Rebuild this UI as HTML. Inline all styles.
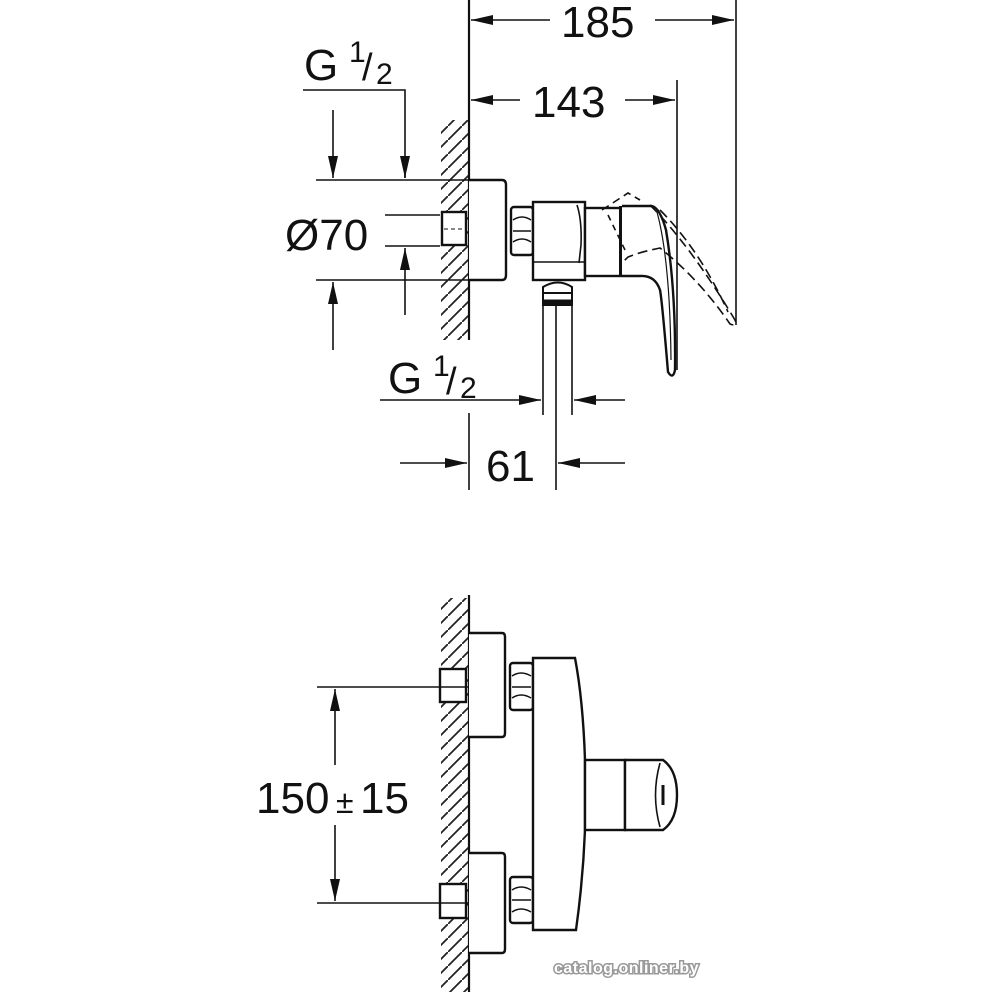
<!DOCTYPE html>
<html><head><meta charset="utf-8"><style>
html,body{margin:0;padding:0;background:#fff;width:1000px;height:1000px;overflow:hidden}
svg{display:block}
text{font-family:"Liberation Sans",sans-serif;fill:#111}
</style></head><body>
<svg width="1000" height="1000" viewBox="0 0 1000 1000" xmlns="http://www.w3.org/2000/svg">
<defs>
<pattern id="h" width="14" height="14" patternUnits="userSpaceOnUse">
<line x1="0" y1="14" x2="14" y2="0" stroke="#222" stroke-width="1.8"/>
</pattern>
<marker id="a" markerWidth="22" markerHeight="10" refX="22" refY="5" orient="auto" markerUnits="userSpaceOnUse">
<path d="M0,0 L22,5 L0,10 Z" fill="#111"/>
</marker>
</defs>
<g stroke="#111" fill="none" stroke-width="1.6">
<!-- TOP VIEW -->
<line x1="469" y1="0" x2="469" y2="340" stroke-width="2.2"/>
<rect x="441" y="120" width="27" height="220" fill="url(#h)" stroke="none"/>
<line x1="469" y1="413" x2="469" y2="490"/>
<line x1="736" y1="0" x2="736" y2="325"/>
<line x1="677" y1="80" x2="677" y2="370"/>
<line x1="550" y1="20" x2="471" y2="20" marker-end="url(#a)"/>
<line x1="655" y1="20" x2="734" y2="20" marker-end="url(#a)"/>
<line x1="520" y1="100" x2="471" y2="100" marker-end="url(#a)"/>
<line x1="625" y1="100" x2="675" y2="100" marker-end="url(#a)"/>
<polyline points="303,90 405,90 405,178" />
<line x1="405" y1="160" x2="405" y2="178" marker-end="url(#a)"/>
<line x1="405" y1="315" x2="405" y2="248" marker-end="url(#a)"/>
<line x1="316" y1="180" x2="470" y2="180"/>
<line x1="316" y1="280" x2="470" y2="280"/>
<line x1="385" y1="215" x2="440" y2="215"/>
<line x1="385" y1="246" x2="440" y2="246"/>
<line x1="333" y1="110" x2="333" y2="178" marker-end="url(#a)"/>
<line x1="333" y1="350" x2="333" y2="282" marker-end="url(#a)"/>
<rect x="442" y="212" width="24" height="33" fill="#fff" stroke-width="2.4"/>
<line x1="444" y1="229" x2="466" y2="229" stroke-dasharray="4,3" stroke-width="1"/>
<path d="M469,180 H502 Q506,180 506,185 V275 Q506,280 502,280 H469" fill="#fff" stroke-width="2.4"/>
<rect x="511" y="207" width="22" height="48" rx="3" fill="#fff" stroke-width="2.4"/>
<path d="M513,220 Q522,214 531,220 M513,242 Q522,236 531,242 M513,231 H531" stroke-width="1.4"/>
<rect x="533" y="202" width="52" height="78" fill="#fff" stroke-width="2.4"/>
<path d="M577,205 Q582,220 581,245 L579,263" stroke-width="1.6"/>
<line x1="533" y1="262" x2="585" y2="262" stroke-width="1.6"/>
<path d="M543,300 V287 Q558,278 572,287 V300" stroke-width="2"/>
<rect x="543" y="293" width="29" height="12" stroke-width="2"/>
<line x1="543" y1="302" x2="572" y2="302" stroke-width="5"/>
<rect x="585" y="208" width="36" height="68" fill="#fff" stroke-width="2.4"/>
<line x1="621" y1="206" x2="621" y2="276" stroke-width="4"/>
<path d="M622,206 H652 Q660,208 666,230 Q676,290 675,370 Q673,380 668,372 Q662,300 660,290 Q655,275 640,276 H622" fill="#fff" stroke-width="2.4"/>
<path d="M657,212 Q670,260 671,360" stroke-width="1.2"/>
<path d="M602,210 L628,193 L640,200" stroke-dasharray="8,5"/>
<path d="M650,205 Q690,245 735,320 Q738,327 730,324 Q700,280 660,248 Q640,252 628,257 L620,265" stroke-dasharray="10,5"/>
<path d="M660,210 Q700,250 728,312" stroke-dasharray="10,5"/>
<path d="M608,215 L625,250" stroke-dasharray="6,5"/>
<line x1="543" y1="305" x2="543" y2="415"/>
<line x1="572" y1="305" x2="572" y2="415"/>
<line x1="556" y1="305" x2="556" y2="490"/>
<line x1="380" y1="400" x2="541" y2="400" marker-end="url(#a)"/>
<line x1="625" y1="400" x2="574" y2="400" marker-end="url(#a)"/>
<line x1="400" y1="463" x2="467" y2="463" marker-end="url(#a)"/>
<line x1="625" y1="463" x2="558" y2="463" marker-end="url(#a)"/>

<!-- BOTTOM VIEW -->
<line x1="469" y1="595" x2="469" y2="992" stroke-width="2.2"/>
<rect x="441" y="598" width="27" height="394" fill="url(#h)" stroke="none"/>
<path d="M469,633 H502 Q505,633 505,637 V733 Q505,737 502,737 H469" fill="#fff" stroke-width="2.4"/>
<path d="M469,853 H502 Q505,853 505,857 V949 Q505,953 502,953 H469" fill="#fff" stroke-width="2.4"/>
<rect x="440" y="669" width="26" height="33" fill="#fff" stroke-width="2.4"/>
<rect x="440" y="884" width="26" height="34" fill="#fff" stroke-width="2.4"/>
<line x1="317" y1="687" x2="468" y2="687"/>
<line x1="317" y1="903" x2="468" y2="903"/>
<rect x="510" y="663" width="23" height="47" rx="3" fill="#fff" stroke-width="2.4"/>
<path d="M512,676 Q521,670 531,676 M512,698 Q521,692 531,698 M512,687 H531" stroke-width="1.4"/>
<rect x="510" y="877" width="23" height="46" rx="3" fill="#fff" stroke-width="2.4"/>
<path d="M512,890 Q521,884 531,890 M512,912 Q521,906 531,912 M512,900 H531" stroke-width="1.4"/>
<path d="M533,658 H575 Q583,700 585,760 V830 Q583,880 576,930 H533 Z" fill="#fff" stroke-width="2.4"/>
<rect x="585" y="760" width="40" height="70" fill="#fff" stroke-width="2.4"/>
<path d="M625,760 H663 Q677,770 677,795 Q677,820 663,830 H625 Z" fill="#fff" stroke-width="2.4"/>
<path d="M660,763 Q651,795 660,827" stroke-width="1.6"/>
<line x1="663" y1="785" x2="663" y2="805" stroke-width="3"/>
<line x1="335" y1="765" x2="335" y2="689" marker-end="url(#a)"/>
<line x1="335" y1="825" x2="335" y2="901" marker-end="url(#a)"/>
</g>
<g font-size="44">
<text x="561" y="37">185</text>
<text x="532" y="117">143</text>
<text x="304" y="80">G</text>
<text x="349" y="62" font-size="30">1</text>
<text x="362" y="80" font-size="38">/</text>
<text x="376" y="84" font-size="30">2</text>
<text x="285" y="250">Ø70</text>
<text x="388" y="393">G</text>
<text x="433" y="376" font-size="30">1</text>
<text x="446" y="394" font-size="38">/</text>
<text x="460" y="398" font-size="30">2</text>
<text x="486" y="481">61</text>
<text x="256" y="813">150</text>
<text x="336" y="813" font-size="32">±</text>
<text x="360" y="813">15</text>
</g>
<text x="554" y="973" font-size="16" font-weight="bold" letter-spacing="0.5" style="fill:#fff;stroke:#999;stroke-width:3;paint-order:stroke">catalog.onliner.by</text>
</svg>
</body></html>
